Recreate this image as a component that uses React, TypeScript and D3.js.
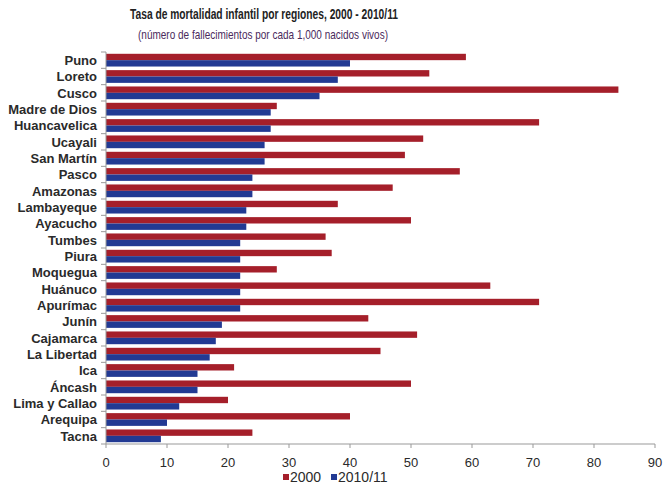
import React from "react";
import * as d3 from "d3";

const regions = [
  "Puno", "Loreto", "Cusco", "Madre de Dios", "Huancavelica", "Ucayali", "San Martín",
  "Pasco", "Amazonas", "Lambayeque", "Ayacucho", "Tumbes", "Piura", "Moquegua",
  "Huánuco", "Apurímac", "Junín", "Cajamarca", "La Libertad", "Ica", "Áncash",
  "Lima y Callao", "Arequipa", "Tacna",
];
const values2000 = [59, 53, 84, 28, 71, 52, 49, 58, 47, 38, 50, 36, 37, 28, 63, 71, 43, 51, 45, 21, 50, 20, 40, 24];
const values2010 = [40, 38, 35, 27, 27, 26, 26, 24, 24, 23, 23, 22, 22, 22, 22, 22, 19, 18, 17, 15, 15, 12, 10, 9];
const seriesNames = ["2000", "2010/11"];
const xTicks = [0, 10, 20, 30, 40, 50, 60, 70, 80, 90];

const title = "Tasa de mortalidad infantil por regiones, 2000 - 2010/11";
const subtitle = "(número de fallecimientos por cada 1,000 nacidos vivos)";

const RED = "#a51f2a";
const BLUE = "#223a93";
const FONT = "'Liberation Sans', Arial, sans-serif";

export default function App() {
  const W = 664, H = 488;
  const left = 106, right = 655, top = 52, bottom = 444;
  const x = d3.scaleLinear().domain([0, 90]).range([left, right]);
  const y = d3.scaleBand<string>().domain(regions).range([top, bottom]).paddingInner(0.22).paddingOuter(0.11);
  const inner = d3.scaleBand<string>().domain(seriesNames).range([0, y.bandwidth()]);
  const step = (bottom - top) / regions.length;
  const boundaries = d3.range(regions.length + 1).map((i) => top + i * step);

  return (
    <svg width={W} height={H} style={{ position: "absolute", left: 0, top: 0, background: "#fff" }} fontFamily={FONT}>
      <rect width={W} height={H} fill="#fff" />
      <text x={264} y={19} textAnchor="middle" fontSize={14} fontWeight="bold" fill="#222"
        textLength={268} lengthAdjust="spacingAndGlyphs">{title}</text>
      <text x={263} y={39} textAnchor="middle" fontSize={13.5} fill="#4a2a5c"
        textLength={250} lengthAdjust="spacingAndGlyphs">{subtitle}</text>

      {regions.map((r, i) => (
        <g key={r}>
          <rect x={x(0)} y={y(r)! + inner("2000")!} width={x(values2000[i]) - x(0)} height={inner.bandwidth()} fill={RED} />
          <rect x={x(0)} y={y(r)! + inner("2010/11")!} width={x(values2010[i]) - x(0)} height={inner.bandwidth()} fill={BLUE} />
          <text x={97} y={y(r)! + y.bandwidth() / 2} dy="0.36em" textAnchor="end" fontSize={13} fontWeight="bold" fill="#2a2a2a">{r}</text>
        </g>
      ))}

      <line x1={left} x2={left} y1={top} y2={bottom} stroke="#999" />
      {boundaries.map((b, i) => (
        <line key={i} x1={left - 5} x2={left} y1={b} y2={b} stroke="#999" />
      ))}
      <line x1={left} x2={right} y1={bottom} y2={bottom} stroke="#999" />
      {xTicks.map((t) => (
        <g key={t}>
          <line x1={x(t)} x2={x(t)} y1={bottom} y2={bottom + 4} stroke="#999" />
          <text x={x(t)} y={467} textAnchor="middle" fontSize={13} fill="#2a2a2a">{t}</text>
        </g>
      ))}

      <rect x={283} y={474} width={6} height={6} fill={RED} />
      <text x={290} y={482} fontSize={14} fill="#2a2a2a">{seriesNames[0]}</text>
      <rect x={331} y={474} width={6} height={6} fill={BLUE} />
      <text x={338} y={482} fontSize={14} fill="#2a2a2a">{seriesNames[1]}</text>
    </svg>
  );
}
